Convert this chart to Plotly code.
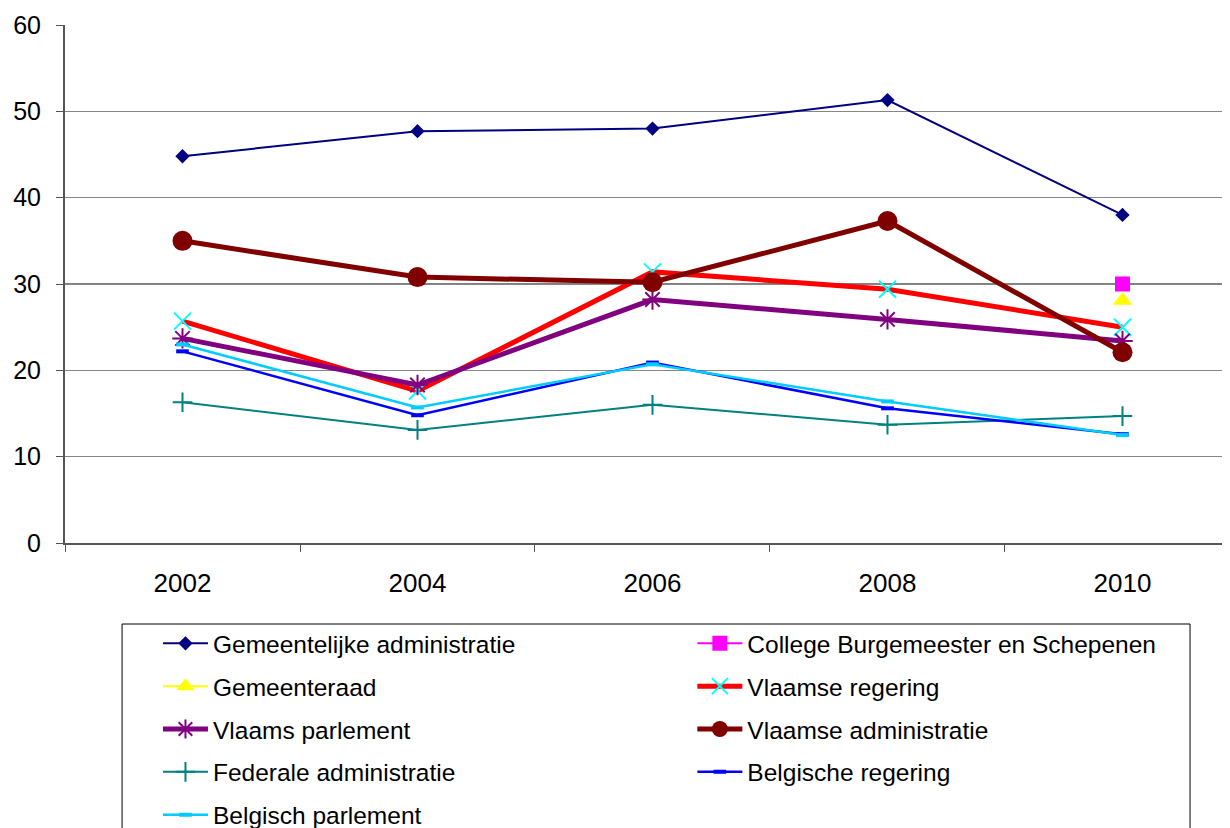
import plotly.graph_objects as go

years = [2002, 2004, 2006, 2008, 2010]

gemeentelijke_administratie = [44.8, 47.7, 48.0, 51.3, 38.0]
college_burgemeester = [None, None, None, None, 30.0]
gemeenteraad = [None, None, None, None, 28.1]
vlaamse_regering = [25.7, 17.6, 31.4, 29.4, 25.0]
vlaams_parlement = [23.7, 18.3, 28.2, 25.9, 23.4]
vlaamse_administratie = [35.0, 30.8, 30.2, 37.3, 22.1]
federale_administratie = [16.3, 13.1, 16.0, 13.7, 14.7]
belgische_regering = [22.2, 14.8, 20.9, 15.6, 12.6]
belgisch_parlement = [23.0, 15.7, 20.7, 16.4, 12.5]

y_ticks = [0, 10, 20, 30, 40, 50, 60]
x_between = [2001, 2003, 2005, 2007, 2009, 2011]

FONT = "Liberation Sans, Arial, sans-serif"

series = [
    # name, values, line color, line width, symbol, marker size, marker color, marker line width, legend
    ("Gemeentelijke administratie", gemeentelijke_administratie, "#000080", 2, "diamond", 11, "#000080", 0, "legend"),
    ("College Burgemeester en Schepenen", college_burgemeester, "#FF00FF", 2, "square", 15, "#FF00FF", 0, "legend2"),
    ("Gemeenteraad", gemeenteraad, "#FFFF00", 2, "triangle-up", 17, "#FFFF00", 0, "legend"),
    ("Vlaamse regering", vlaamse_regering, "#FF0000", 5, "x-thin-open", 17, "#00FFFF", 2, "legend2"),
    ("Vlaams parlement", vlaams_parlement, "#800080", 5, "asterisk-open", 17, "#800080", 2, "legend"),
    ("Vlaamse administratie", vlaamse_administratie, "#800000", 5, "circle", 20, "#800000", 0, "legend2"),
    ("Federale administratie", federale_administratie, "#008080", 2, "cross-thin-open", 14, "#008080", 2, "legend"),
    ("Belgische regering", belgische_regering, "#0000FF", 2.5, "line-ew-open", 9, "#0000FF", 4, "legend2"),
    ("Belgisch parlement", belgisch_parlement, "#00CCFF", 2.5, "line-ew-open", 9, "#00CCFF", 4, "legend"),
]

fig = go.Figure()
for i, (name, vals, lc, lw, sym, ms, mc, mlw, lg) in enumerate(series):
    marker = dict(symbol=sym, size=ms, color=mc)
    if mlw:
        marker["line"] = dict(color=mc, width=mlw)
    fig.add_trace(go.Scatter(
        x=years, y=vals, name=name, mode="lines+markers",
        line=dict(color=lc, width=lw), marker=marker,
        legend=lg, legendgroup="g%d" % i,
    ))

fig.add_shape(type="line", xref="paper", x0=0, x1=1, yref="y", y0=30, y1=30,
              line=dict(color="black", width=1), layer="below")

# legend frame (cropped at the bottom like the original)
fig.add_shape(type="rect", xref="paper", yref="paper",
              x0=0.049, x1=0.9657, y0=-0.1564, y1=-0.75,
              line=dict(color="black", width=1), layer="below")

legend_common = dict(
    xanchor="left", yanchor="top", orientation="v",
    font=dict(family=FONT, size=24.5, color="black"),
    tracegroupgap=8, itemwidth=45, bgcolor="rgba(0,0,0,0)",
    borderwidth=0,
)

fig.update_layout(
    width=1222, height=820,
    margin=dict(l=57, r=0, t=17, b=285, autoexpand=False),
    paper_bgcolor="white", plot_bgcolor="white",
    font=dict(family=FONT, size=25, color="black"),
    showlegend=True,
    legend=dict(x=0.0798, y=-0.1503, **legend_common),
    legend2=dict(x=0.5385, y=-0.1503, **legend_common),
    xaxis=dict(
        range=[2001, 2010.915], tickvals=years, ticktext=[str(y) for y in years],
        ticks="", showgrid=False, zeroline=False,
        showline=True, linecolor="#555555", linewidth=2,
        ticklabelstandoff=16,
        minor=dict(tickvals=x_between, ticks="outside", ticklen=7, tickcolor="#555555", tickwidth=1, showgrid=False),
        tickfont=dict(family=FONT, size=26, color="black"),
    ),
    yaxis=dict(
        range=[0, 60], tickvals=y_ticks, showgrid=True, gridcolor="#868686", gridwidth=1,
        zeroline=False, showline=True, linecolor="#555555", linewidth=2,
        ticks="outside", ticklen=7, tickcolor="#555555", ticklabelstandoff=10,
        tickfont=dict(family=FONT, size=25, color="black"),
    ),
)

fig.write_html("out.html")
